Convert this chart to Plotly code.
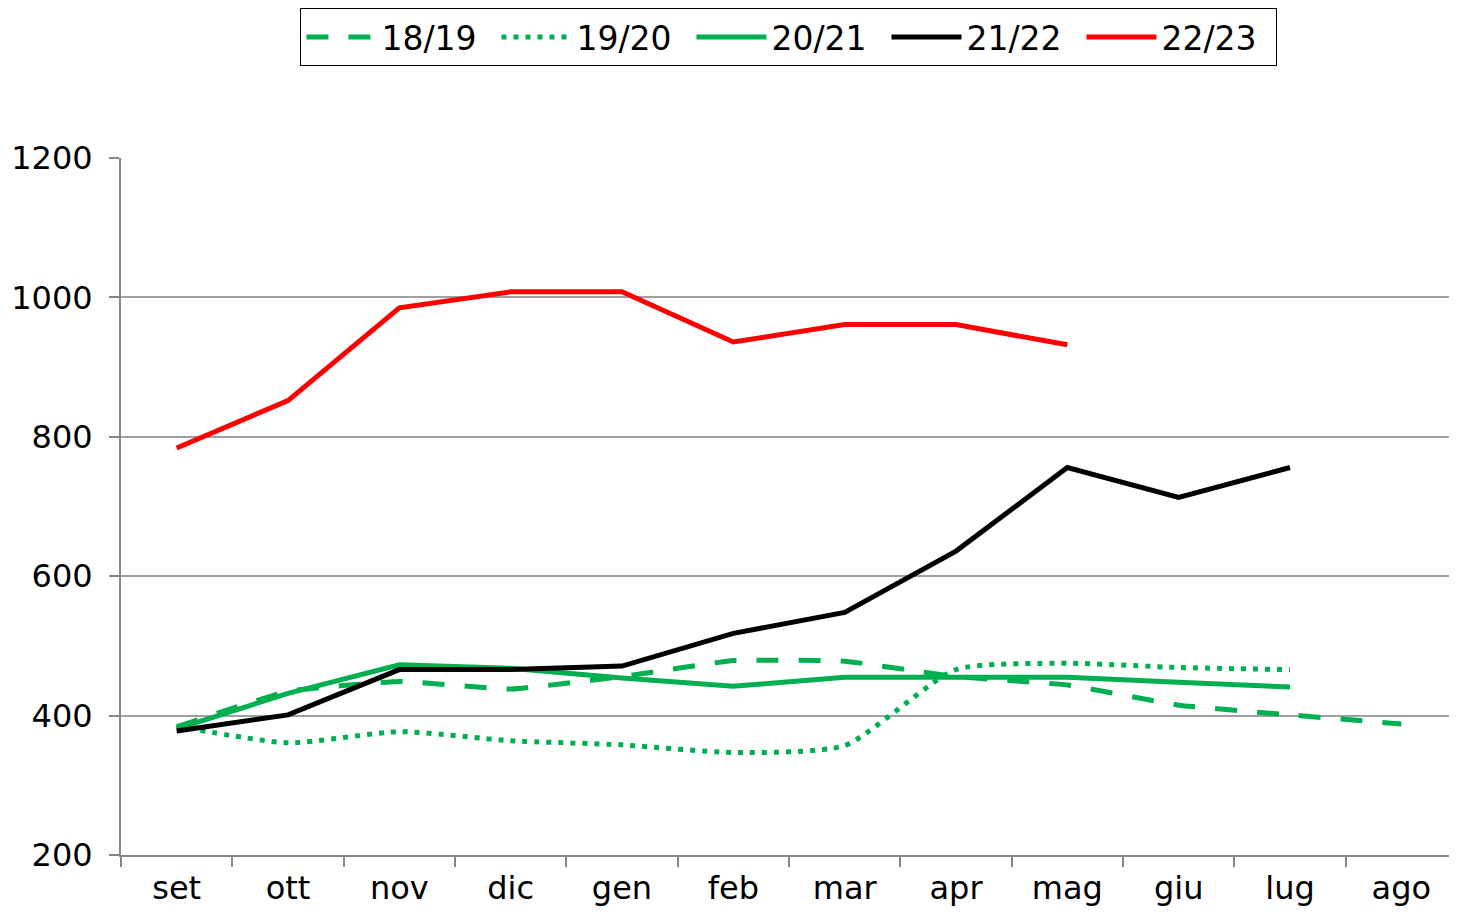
import plotly.graph_objects as go

months = ["set", "ott", "nov", "dic", "gen", "feb", "mar", "apr", "mag", "giu", "lug", "ago"]

s1819 = [384, 435, 449, 438, 456, 479, 478, 456, 444, 415, 401, 388]
s1920 = [385, 361, 377, 364, 358, 347, 357, 466, 475, 469, 466, None]
s2021 = [381, 432, 473, 468, 454, 442, 455, 455, 455, 448, 441, None]
s2122 = [378, 401, 466, 466, 471, 518, 548, 636, 756, 713, 756, None]
s2223 = [784, 852, 985, 1008, 1008, 936, 961, 961, 932, None, None, None]

green = "#00B050"
fig = go.Figure()
fig.add_trace(go.Scatter(x=months, y=s1819, name="18/19", mode="lines",
                         line=dict(color=green, width=5, dash="22px,20px", shape="spline", smoothing=0.3)))
fig.add_trace(go.Scatter(x=months, y=s1920, name="19/20", mode="lines",
                         line=dict(color=green, width=5, dash="5px,7px", shape="spline", smoothing=0.6)))
fig.add_trace(go.Scatter(x=months, y=s2021, name="20/21", mode="lines",
                         line=dict(color=green, width=5)))
fig.add_trace(go.Scatter(x=months, y=s2122, name="21/22", mode="lines",
                         line=dict(color="black", width=5)))
fig.add_trace(go.Scatter(x=months, y=s2223, name="22/23", mode="lines",
                         line=dict(color="#FF0000", width=5)))

fig.update_layout(
    width=1441, height=903,
    margin=dict(l=113, r=0, t=145, b=56),
    paper_bgcolor="white", plot_bgcolor="white",
    font=dict(family="DejaVu Sans", size=32, color="black"),
    legend=dict(orientation="h", x=0.503, xanchor="center", y=1.2151, yanchor="top",
                xref="paper", yref="paper",
                bordercolor="black", borderwidth=1, font=dict(size=33),
                itemwidth=70, entrywidth=110, tracegroupgap=0),
    showlegend=True,
)
fig.update_xaxes(type="category", range=[-0.5, 11.428], tickson="boundaries",
                 ticks="outside", ticklen=10, tickcolor="#888888", tickwidth=2,
                 showline=True, linecolor="#888888", linewidth=2, automargin=False,
                 showgrid=False, tickfont=dict(size=32), ticklabelstandoff=4)
fig.update_yaxes(range=[200, 1200], dtick=200, showgrid=True, gridcolor="#A0A0A0",
                 gridwidth=2, ticks="outside", ticklen=10, tickcolor="#888888", tickwidth=2,
                 showline=True, linecolor="#888888", linewidth=2, zeroline=False, automargin=False,
                 tickfont=dict(size=32), ticklabelstandoff=10)

fig.write_html("out.html")
